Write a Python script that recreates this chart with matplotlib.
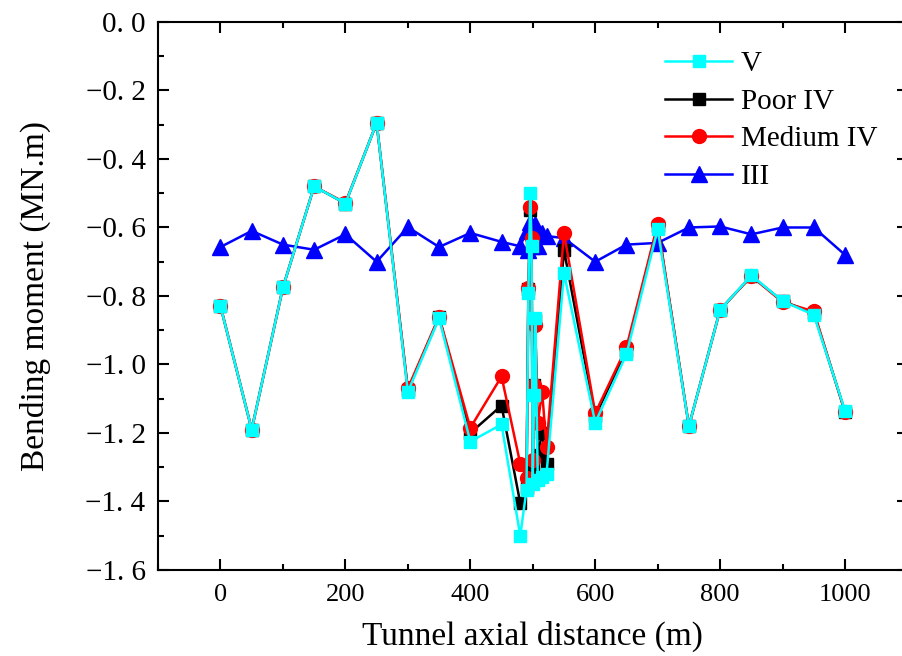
import matplotlib
matplotlib.use("agg")
import matplotlib.pyplot as plt
from matplotlib.ticker import MultipleLocator, FuncFormatter

# tunnel axial positions (m), shared by all four series
distance = [0, 50, 100, 150, 200, 250, 300, 350, 400, 450,
            480, 490, 493, 496, 498, 500, 502, 504, 508, 515, 522,
            550, 600, 650, 700, 750, 800, 850, 900, 950, 1000]

# bending moment (MN.m)
v_vals = [-0.83, -1.19, -0.775, -0.48, -0.53, -0.295, -1.08, -0.865, -1.225, -1.175,
          -1.50, -1.365, -0.79, -0.50, -0.655, -1.35, -1.09, -0.865, -1.337, -1.328, -1.32,
          -0.733, -1.17, -0.97, -0.605, -1.18, -0.84, -0.74, -0.815, -0.855, -1.135]
poor_iv = [-0.83, -1.19, -0.775, -0.48, -0.53, -0.295, -1.075, -0.862, -1.20, -1.12,
           -1.405, -1.36, -0.78, -0.55, -0.655, -1.30, -1.06, -0.87, -1.264, -1.20, -1.29,
           -0.666, -1.15, -0.96, -0.595, -1.18, -0.84, -0.742, -0.815, -0.85, -1.138]
medium_iv = [-0.828, -1.19, -0.775, -0.48, -0.528, -0.295, -1.07, -0.86, -1.185, -1.035,
             -1.29, -1.33, -0.777, -0.54, -0.63, -1.28, -1.06, -0.885, -1.17, -1.08, -1.24,
             -0.616, -1.142, -0.95, -0.59, -1.18, -0.84, -0.742, -0.818, -0.845, -1.14]
iii_vals = [-0.657, -0.61, -0.65, -0.665, -0.62, -0.70, -0.599, -0.657, -0.616, -0.642,
            -0.655, -0.61, -0.665, -0.585, -0.655, -0.60, -0.64, -0.59, -0.655, -0.615, -0.625,
            -0.631, -0.70, -0.65, -0.645, -0.60, -0.597, -0.62, -0.60, -0.60, -0.68]

plt.rcParams["font.family"] = ["Liberation Serif", "DejaVu Serif"]

fig = plt.figure(figsize=(9.02, 6.56), dpi=100)
ax = fig.add_axes([0.1752, 0.1311, 0.8309, 0.8354])

ax.plot(distance, v_vals, color="#00ffff", marker="s", markersize=9, lw=1.8, label="V", zorder=5)
ax.plot(distance, poor_iv, color="black", marker="s", markersize=9, lw=1.8, label="Poor IV", zorder=3)
ax.plot(distance, medium_iv, color="red", marker="o", markersize=10, lw=1.8, label="Medium IV", zorder=4)
ax.plot(distance, iii_vals, color="blue", marker="^", markersize=11.5, lw=1.8, label="III", zorder=2)

ax.set_xlim(-100, 1100)
ax.set_ylim(-1.6, 0.0)
ax.xaxis.set_major_locator(MultipleLocator(200))
ax.xaxis.set_minor_locator(MultipleLocator(100))
ax.yaxis.set_major_locator(MultipleLocator(0.2))
ax.yaxis.set_minor_locator(MultipleLocator(0.1))
ax.yaxis.set_major_formatter(FuncFormatter(lambda v, p: f"{v:.1f}".replace("-", "\u2212").replace(".", ". ")))

ax.tick_params(which="both", direction="in", top=True, right=True, width=1.5)
ax.tick_params(which="major", length=8)
ax.tick_params(which="minor", length=4)
ax.tick_params(axis="x", labelsize=19, pad=10)
ax.tick_params(axis="y", labelsize=21, pad=9)
for s in ax.spines.values():
    s.set_linewidth(1.5)

ax.set_xlabel("Tunnel axial distance (m)", fontsize=24, labelpad=11)
ax.set_ylabel("Bending moment (MN.m)", fontsize=24, labelpad=25)

ax.legend(loc="upper right", bbox_to_anchor=(0.995, 0.995), frameon=False, fontsize=21,
          handlelength=2.3, labelspacing=0.38, handletextpad=0.3)

fig.savefig("out.png", dpi=100)
